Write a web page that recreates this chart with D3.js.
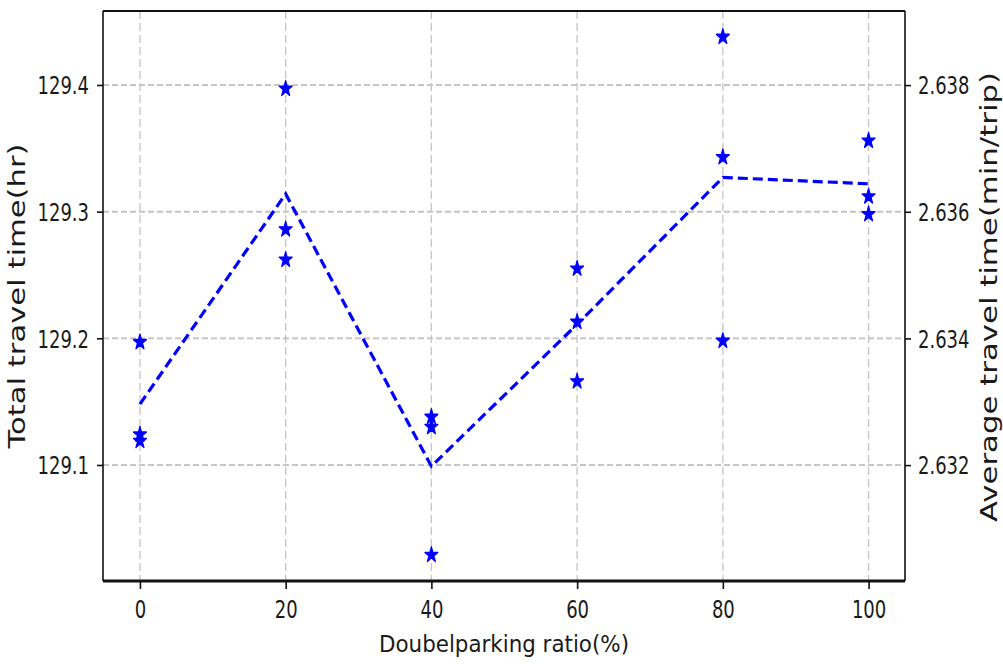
<!DOCTYPE html>
<html><head><meta charset="utf-8">
<script src="https://cdn.jsdelivr.net/npm/d3@7"></script>
<style>
body{margin:0;background:#fff}
text{font-family:"DejaVu Sans",sans-serif;fill:#1a1a1a}
</style>
</head><body>
<svg id="c" width="1003" height="665"></svg>
<script>
// ---- data ----
const ratios = [0, 20, 40, 60, 80, 100];
const runA = [129.197, 129.397, 129.138, 129.255, 129.438, 129.356];
const runB = [129.124, 129.286, 129.130, 129.213, 129.343, 129.312];
const runC = [129.119, 129.262, 129.029, 129.166, 129.198, 129.298];
const meanTotal = [129.148, 129.314, 129.099, 129.211, 129.327, 129.322];
const xTicks = [0, 20, 40, 60, 80, 100];
const leftTicks = [129.1, 129.2, 129.3, 129.4];
const rightTicks = [2.632, 2.634, 2.636, 2.638];
const xLabel = "Doubelparking ratio(%)";
const yLabelLeft = "Total travel time(hr)";
const yLabelRight = "Average travel time(min/trip)";

// ---- layout ----
const L = 103, R = 905, T = 11, B = 581;
const SY = 1.35; // vertical stretch of the reference image

const svg = d3.select("#c");
const x = d3.scaleLinear().domain([-5.07, 105]).range([L, R]);
const y = d3.scaleLinear().domain([129.0084, 129.4584]).range([B, T]);
const y2 = d3.scaleLinear().domain([2.63017, 2.63917]).range([B, T]);

// grid
const grid = svg.append("g");
grid.selectAll(".gx").data(xTicks).join("line")
  .attr("x1", d => x(d)).attr("x2", d => x(d)).attr("y1", T).attr("y2", B)
  .attr("stroke", "#c4c4c4").attr("stroke-width", 1.3).attr("stroke-dasharray", "8,4");
grid.selectAll(".gy").data(leftTicks).join("line")
  .attr("x1", L).attr("x2", R).attr("y1", d => y(d)).attr("y2", d => y(d))
  .attr("stroke", "#c4c4c4").attr("stroke-width", 1.6).attr("stroke-dasharray", "6,3");
grid.selectAll(".gy2").data(rightTicks).join("line")
  .attr("x1", L).attr("x2", R).attr("y1", d => y2(d)).attr("y2", d => y2(d))
  .attr("stroke", "#c4c4c4").attr("stroke-width", 1.6).attr("stroke-dasharray", "6,3");

// axes
const ax = svg.append("g").attr("transform", `translate(0,${B})`)
  .call(d3.axisBottom(x).tickValues(xTicks).tickSize(8).tickFormat(d3.format("d")));
const ay = svg.append("g").attr("transform", `translate(${L},0)`)
  .call(d3.axisLeft(y).tickValues(leftTicks).tickSize(6).tickPadding(8).tickFormat(d3.format(".1f")));
const ay2 = svg.append("g").attr("transform", `translate(${R},0)`)
  .call(d3.axisRight(y2).tickValues(rightTicks).tickSize(6).tickPadding(7).tickFormat(d3.format(".3f")));

[ax, ay, ay2].forEach(g => {
  g.select(".domain").remove();
  g.selectAll(".tick line").attr("stroke", "#111").attr("stroke-width", 1.6);
  g.selectAll(".tick text").attr("font-size", 18).style("font-family", "DejaVu Sans").attr("fill", "#1a1a1a");
});
ax.selectAll(".tick text").attr("y", 0).attr("dy", 0)
  .attr("transform", `translate(0,37) scale(1,${SY})`);
ay.selectAll(".tick text").attr("dy", "0.36em").attr("transform", `scale(1,${SY})`);
ay2.selectAll(".tick text").attr("dy", "0.36em").attr("transform", `scale(1,${SY})`);

// frame
const fr = svg.append("g").attr("stroke", "#111").attr("fill", "none");
fr.append("line").attr("x1", L).attr("x2", R).attr("y1", T).attr("y2", T).attr("stroke-width", 1.8);
fr.append("line").attr("x1", L).attr("x2", R).attr("y1", B).attr("y2", B).attr("stroke-width", 3);
fr.append("line").attr("x1", L).attr("x2", L).attr("y1", T).attr("y2", B).attr("stroke-width", 1.6);
fr.append("line").attr("x1", R).attr("x2", R).attr("y1", T).attr("y2", B).attr("stroke-width", 1.6);

// mean line
svg.append("path")
  .datum(ratios.map((r, i) => [r, meanTotal[i]]))
  .attr("d", d3.line().x(d => x(d[0])).y(d => y(d[1])))
  .attr("fill", "none").attr("stroke", "#0000ff").attr("stroke-width", 3.2)
  .attr("stroke-dasharray", "10,5");

// stars
const star = d3.symbol(d3.symbolStar, 52);
[runA, runB, runC].forEach(run => {
  svg.append("g").selectAll("path").data(ratios.map((r, i) => [r, run[i]])).join("path")
    .attr("d", star)
    .attr("transform", d => `translate(${x(d[0])},${y(d[1])}) scale(1,1.2)`)
    .attr("fill", "#0000ff").attr("stroke", "#0000ff").attr("stroke-width", 1.2)
    .attr("stroke-linejoin", "round");
});

// labels
svg.append("text").attr("x", (L + R) / 2).attr("y", 652).attr("text-anchor", "middle")
  .attr("font-size", 23).attr("textLength", 250).attr("lengthAdjust", "spacingAndGlyphs").text(xLabel);
svg.append("text").attr("transform", `translate(25,${(T + B) / 2}) rotate(-90)`).attr("text-anchor", "middle")
  .attr("font-size", 23).attr("textLength", 305).attr("lengthAdjust", "spacingAndGlyphs").text(yLabelLeft);
svg.append("text").attr("transform", `translate(997,297) rotate(-90)`).attr("text-anchor", "middle")
  .attr("font-size", 23).attr("textLength", 450).attr("lengthAdjust", "spacingAndGlyphs").text(yLabelRight);
</script>
</body></html>
